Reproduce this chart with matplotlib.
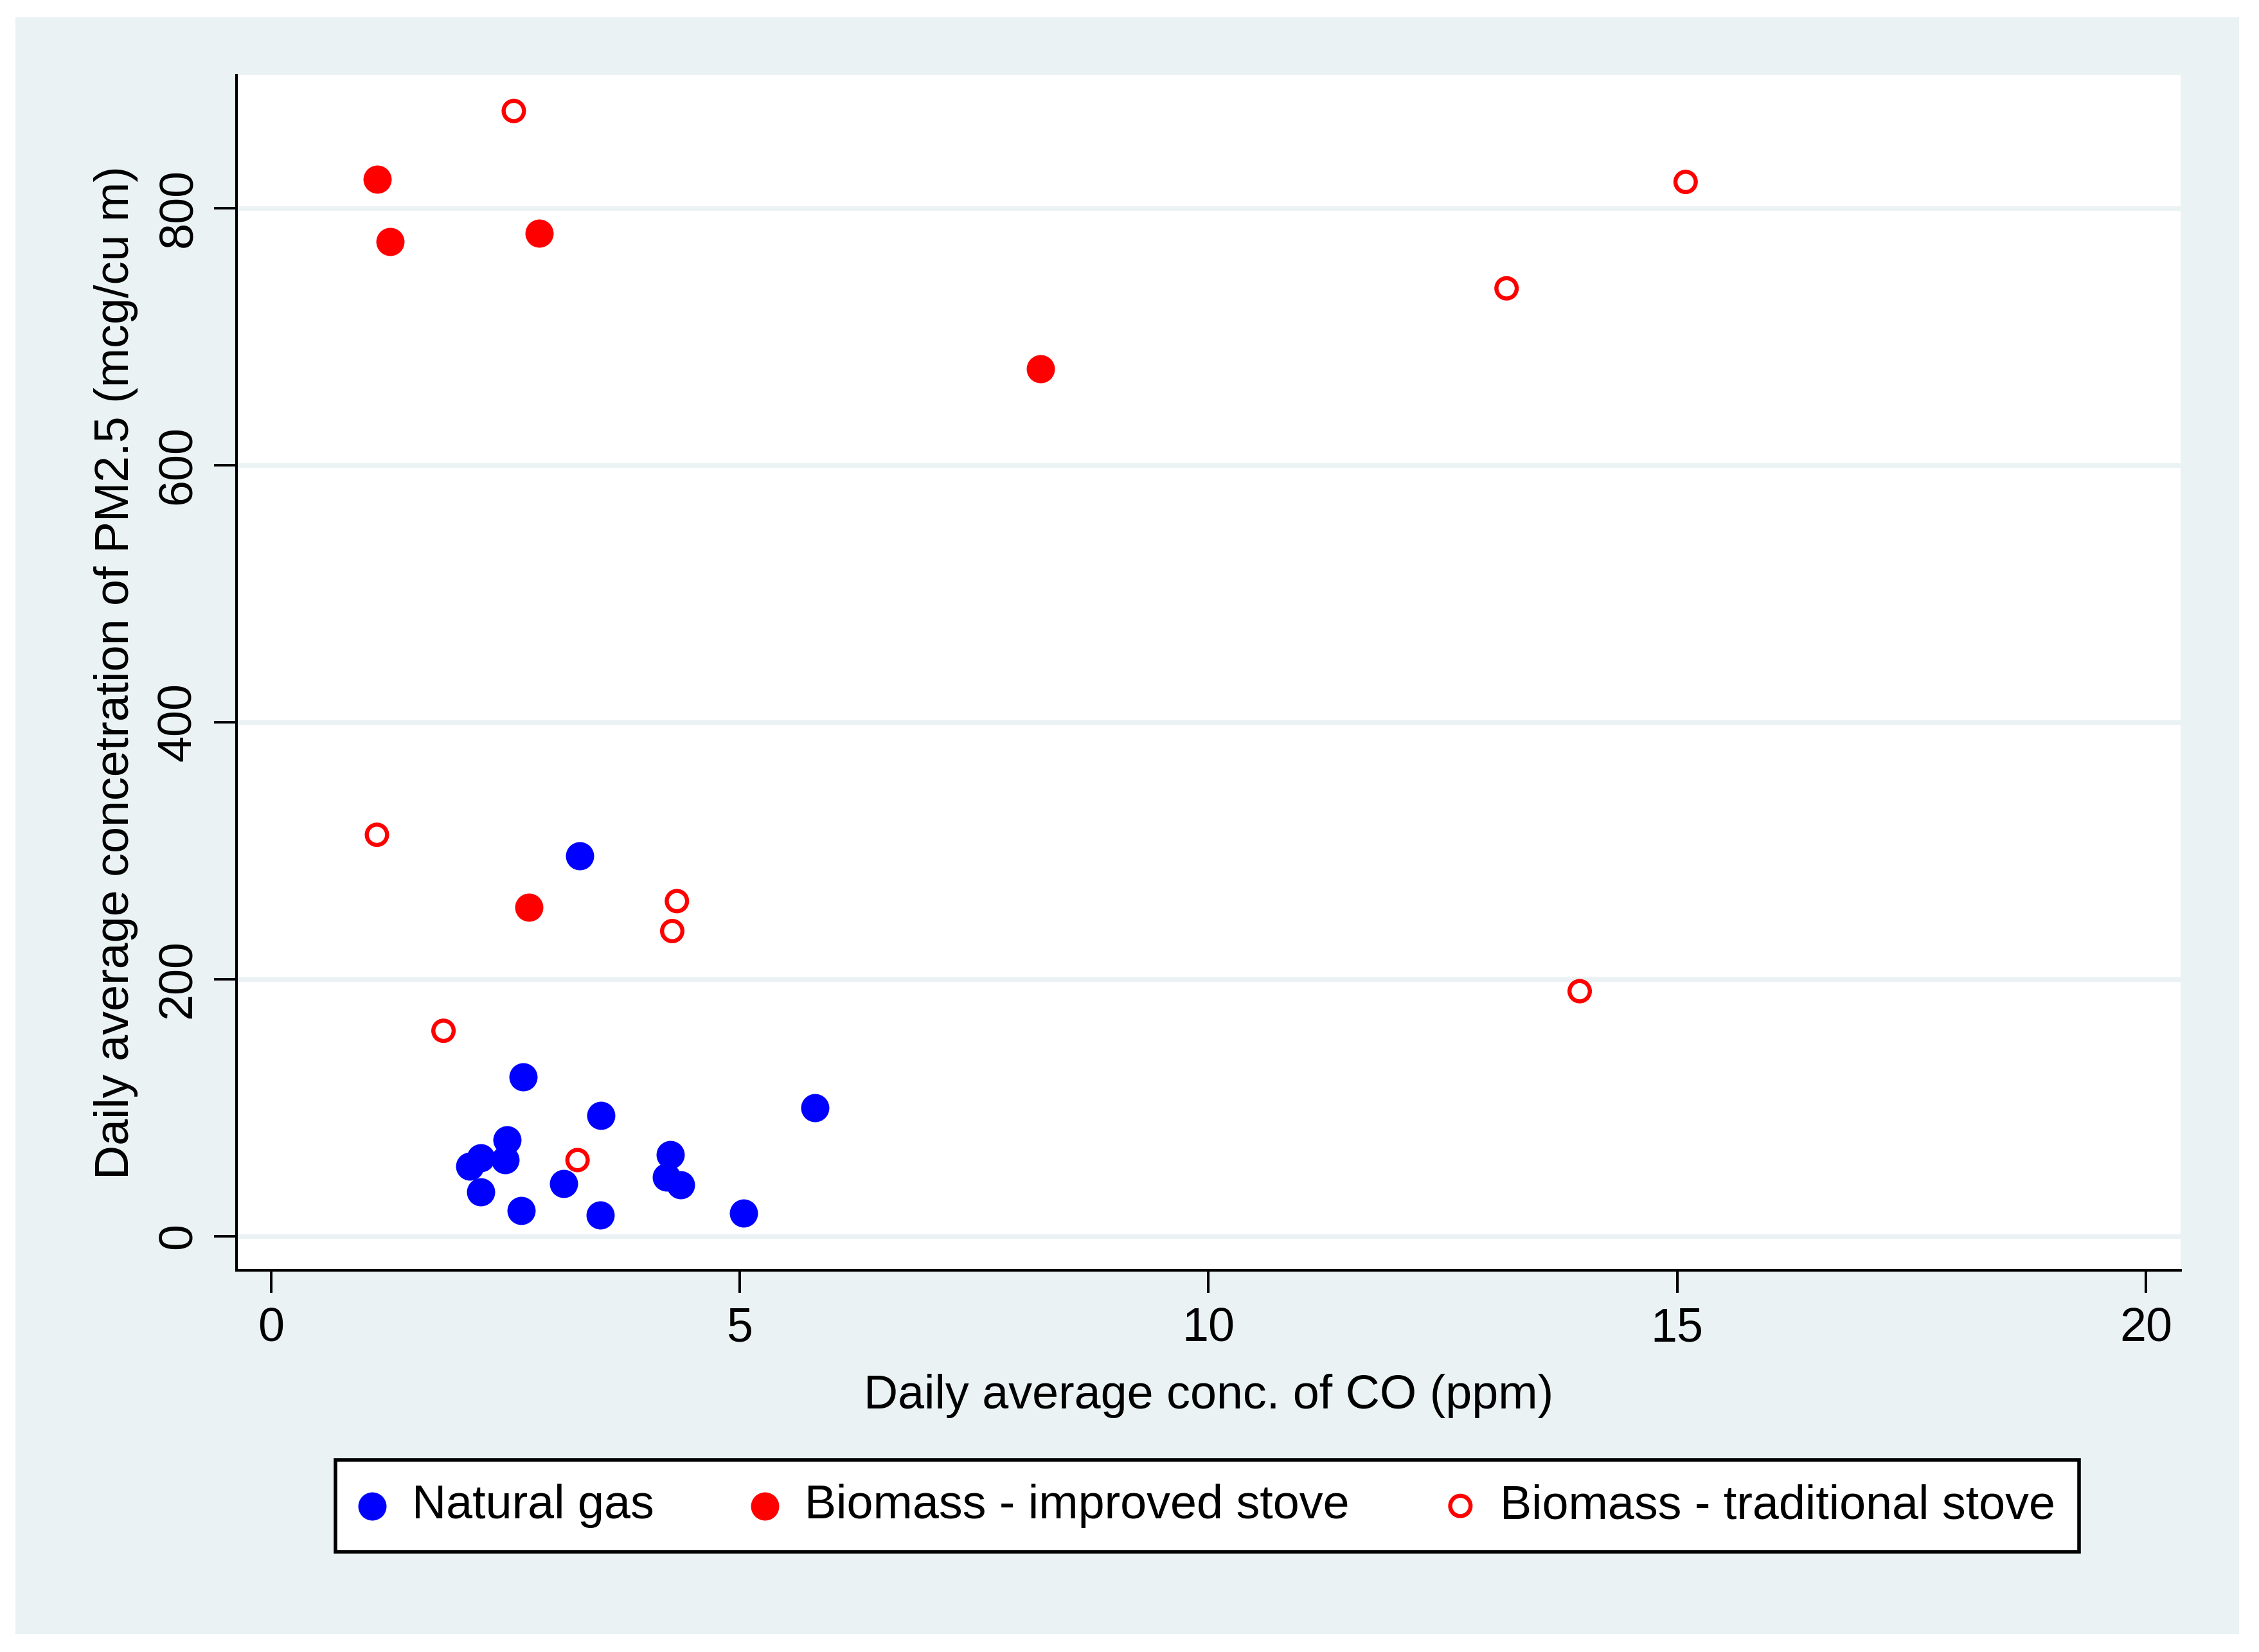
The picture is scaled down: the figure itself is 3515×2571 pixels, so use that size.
import matplotlib
matplotlib.use('Agg')
import matplotlib.pyplot as plt
from matplotlib import font_manager
from matplotlib.patches import Rectangle

# values (CO ppm, PM2.5 mcg/cu m)
gas_co = [3.29, 2.69, 3.52, 5.80, 2.52, 2.24, 2.12, 2.50, 2.24, 3.12, 2.67, 3.51, 4.26, 4.22, 4.37, 5.04]
gas_pm = [295.8, 123.9, 94.0, 99.9, 74.8, 60.8, 54.4, 59.5, 34.5, 41.2, 19.9, 16.6, 63.3, 46.2, 39.8, 17.9]

improved_co = [1.13, 1.27, 2.86, 8.21, 2.75]
improved_pm = [822.6, 774.2, 780.7, 674.9, 256.2]

traditional_co = [2.59, 15.09, 13.18, 13.96, 1.13, 4.33, 4.28, 1.84, 3.27]
traditional_pm = [875.6, 820.4, 737.6, 190.7, 312.4, 260.8, 237.5, 159.9, 59.3]

x_ticks = [0, 5, 10, 15, 20]
y_ticks = [0, 200, 400, 600, 800]
labels = ['Natural gas', 'Biomass - improved stove', 'Biomass - traditional stove']

BG = '#EAF2F3'
W, H = 3516, 2571

names = {f.name for f in font_manager.fontManager.ttflist}
if 'Liberation Sans Narrow' in names:
    FONT, FS = 'Liberation Sans Narrow', 61
else:
    FONT, FS = 'Liberation Sans', 53
plt.rcParams['font.family'] = [FONT, 'DejaVu Sans']

fig = plt.figure(figsize=(W / 100, H / 100), dpi=100, facecolor='white')
fig.patches.append(Rectangle((24 / W, 1 - 2543 / H), 3460 / W, 2516 / H,
                             transform=fig.transFigure, facecolor=BG,
                             edgecolor='none', zorder=-10))

left, right = 367.7 / W, 3393 / W
bottom, top = 1 - 1977 / H, 1 - 116.7 / H
ax = fig.add_axes([left, bottom, right - left, top - bottom])
ax.set_zorder(1)
ax.set_facecolor('white')

ax.set_xlim(-0.37, 20.37)
ax.set_ylim(-26.5, 903.6)

s_fill = 1000
s_ring = 518
h1 = ax.scatter(gas_co, gas_pm, s=s_fill, color='#0000FF', linewidths=0, zorder=3)
h2 = ax.scatter(improved_co, improved_pm, s=s_fill, color='#FF0000', linewidths=0, zorder=3)
h3 = ax.scatter(traditional_co, traditional_pm, s=s_ring, facecolors='none',
                edgecolors='#FF0000', linewidths=4.6, zorder=3)

ax.set_xticks(x_ticks)
ax.set_yticks(y_ticks)
ax.yaxis.grid(True, color=BG, linewidth=5)
ax.xaxis.grid(False)
ax.set_axisbelow(True)

for side in ['top', 'right']:
    ax.spines[side].set_visible(False)
for side in ['left', 'bottom']:
    ax.spines[side].set_linewidth(2.9)
    ax.spines[side].set_color('black')

ax.tick_params(axis='x', length=25, width=2.9, pad=16, labelsize=FS, direction='out')
ax.tick_params(axis='y', length=25, width=2.9, pad=15, labelsize=FS, direction='out',
               labelrotation=90)
for lab in ax.get_yticklabels():
    lab.set_va('center')

ax.set_xlabel('Daily average conc. of CO (ppm)', fontsize=FS, va='baseline')
ax.xaxis.set_label_coords(0.5, (1977 - 2192) / (1977 - 116.7))
ax.set_ylabel('Daily average concetration of PM2.5 (mcg/cu m)', fontsize=FS)
ax.yaxis.set_label_coords((215 - 367.7) / (3393 - 367.7), 0.5)

leg = fig.legend([h1, h2, h3], labels, ncol=3, mode='expand',
                 loc='center', bbox_to_anchor=(522 / W, 1 - 2427 / H, 2713 / W, 167 / H),
                 bbox_transform=fig.transFigure, borderaxespad=0,
                 fontsize=FS, scatterpoints=1, handlelength=0.56, handletextpad=0.56,
                 borderpad=0.5, frameon=True, fancybox=False, framealpha=1)
leg.get_frame().set_edgecolor('black')
leg.get_frame().set_linewidth(4)
leg.get_frame().set_facecolor('white')

fig.savefig('out.png', dpi=100, facecolor='white')
